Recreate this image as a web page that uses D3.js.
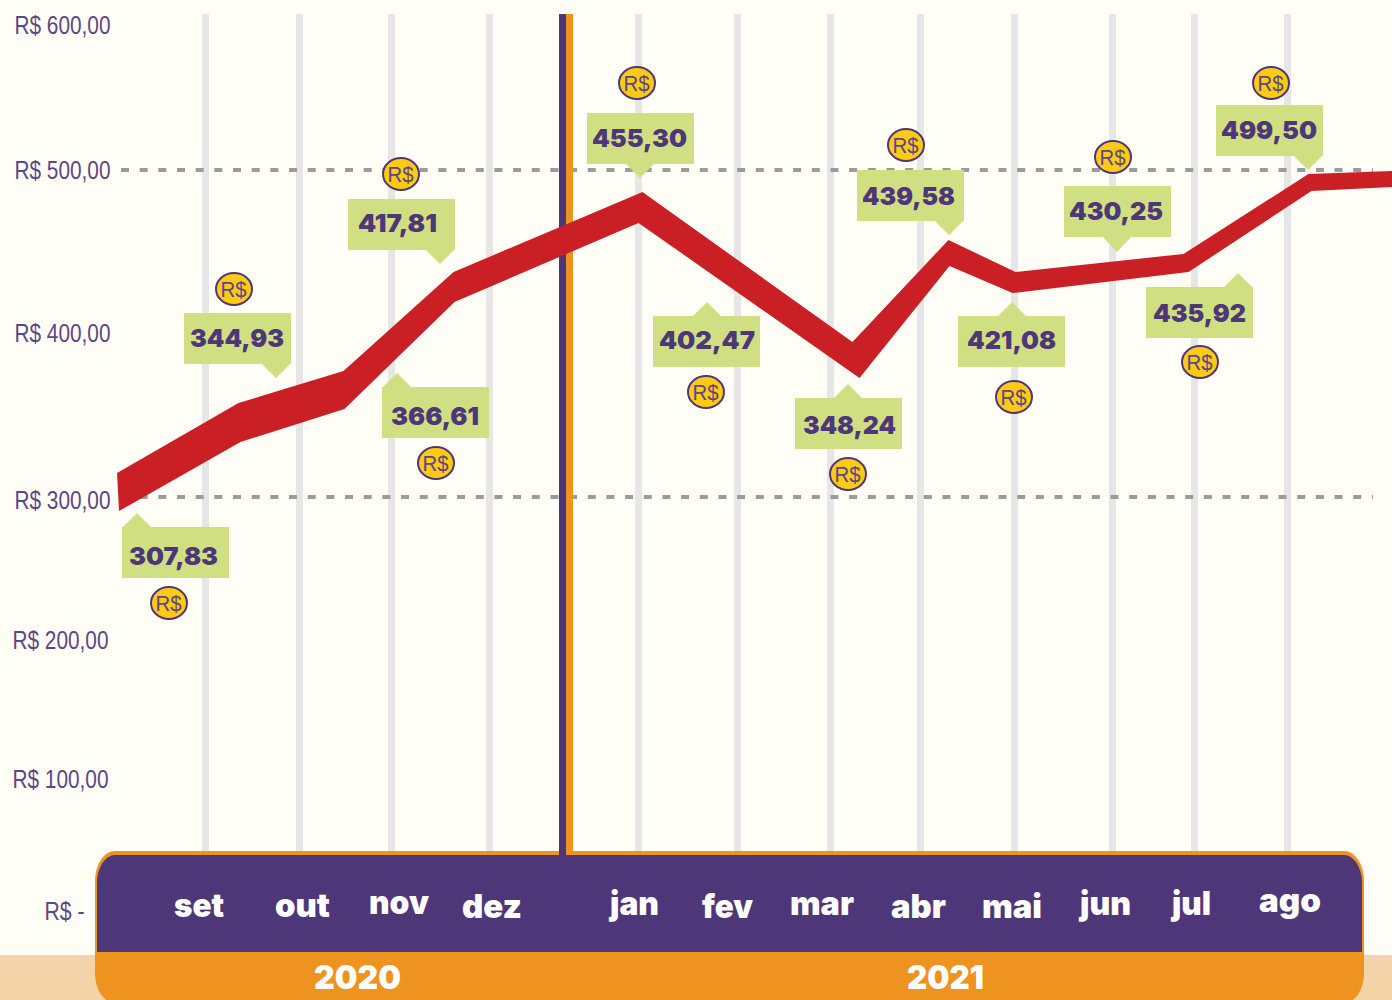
<!DOCTYPE html>
<html lang="pt-BR">
<head>
<meta charset="utf-8">
<title>Preço em R$</title>
<script src="https://cdn.jsdelivr.net/npm/d3@7/dist/d3.min.js"></script>
<style>
html,body{margin:0;padding:0;background:#fffef6;overflow:hidden}
svg{display:block}
</style>
</head>
<body>
<svg id="chart" width="1392" height="1000"></svg>
<script>
// ---------- data ----------
const months = ["set","out","nov","dez","jan","fev","mar","abr","mai","jun","jul","ago"];
const years = ["2020","2021"];
const yTicks = [0,100,200,300,400,500,600];
const valueLabels = ["307,83","344,93","417,81","366,61","455,30","402,47","348,24","439,58","421,08","430,25","435,92","499,50"];
const guideValues = [301.8,500];
// upper and lower edge of the red ribbon: position in month units, value in R$
const ribbonTopMonth = [-0.936,0.351,1.478,2.633,4.04,6.244,7.298,8.01,9.866,11.2,12];
const ribbonTopValue = [316.2,358.1,377.2,437.4,486.5,394.6,457.1,437.4,448.5,497.5,499.4];
const ribbonBottomMonth = [-0.915,0.372,1.489,2.643,4.0,6.322,7.309,7.979,9.927,11.229,12];
const ribbonBottomValue = [292.1,334.7,354.5,419.0,467.5,373.1,441.1,424.5,437.4,487.1,489.6];

// ---------- layout ----------
const W = 1392, H = 1000;
const C = {bg:"#fffef6",band:"#f5d3a9",grid:"#e6e6e6",dash:"#9b9b9b",purple:"#4e3778",orange:"#ee9220",
  red:"#cb1f26",box:"#cfdf82",coin:"#ffca14",axis:"#5c4785"};
const labelFont = "Inter, 'Open Sans', sans-serif";
const narrowFont = "'Liberation Sans', Arial, sans-serif";

const boxLeft = [122,184,348,382,587,653,795,857,958,1064,1146,1216];
const boxTop  = [527,313,199,387,113,316,398,170,316,186,287,105];
const tipX    = [137,276,440,397,640,707,848,949,1012,1117,1238,1308];
const tipY    = [513,378,264,373,178,302,384,235,302,252,273,170];
const textLeft = [129,190,358,391,592,659,803,862,967,1069,1153,1221];
const textW    = [89,94,79,88,95,96,93,93,89,94,93,96];
const textBase = [38,34,33,38,34,33,36,35,33,34,35,34];
const coinX = [169,234,401,436,637,706,848,906,1014,1113,1200,1271];
const coinY = [603,289,174,463,83,392,474,145,397,157,362,83];
const monthLeft = [174,275,369,462,610,702,790,891,982,1080,1172,1259];
const monthW    = [50,55,60,60,49,51,64,55,60,51,39,62];
const monthBase = [917,917,914,918,915,918,915,918,918,915,915,912];
const yearLeft = [314,907], yearW = [87,77];
const boxW = 107, boxH = 51, tipHalf = 14;

// ---------- scales ----------
const x = d3.scaleLinear()
  .domain([-1,0,1,2,3,4,5,6,7,8,9,10,11,12])
  .range([111,205.5,299.5,391.5,489.5,638.5,737.5,830.5,920.5,1014.5,1112.5,1194.5,1287.5,1392]);
const y = d3.scaleLinear()
  .domain(yTicks)
  .range([911,779,640,500,333,170,25]);

const svg = d3.select("#chart");
svg.append("rect").attr("width",W).attr("height",H).attr("fill",C.bg);
svg.append("rect").attr("x",0).attr("y",955).attr("width",W).attr("height",45).attr("fill",C.band);

// vertical month guides
svg.append("g").selectAll("line").data(months).join("line")
  .attr("x1",(d,i)=>x(i)).attr("x2",(d,i)=>x(i))
  .attr("y1",14).attr("y2",860)
  .attr("stroke",C.grid).attr("stroke-width",7);

// dashed horizontal guides
svg.append("g").selectAll("line").data(guideValues).join("line")
  .attr("x1",121).attr("x2",1373)
  .attr("y1",d=>y(d)).attr("y2",d=>y(d))
  .attr("stroke",C.dash).attr("stroke-width",4)
  .attr("stroke-dasharray","8 10.67");

// y axis labels
const yAxis = d3.axisLeft(y).tickValues(yTicks).tickSize(0)
  .tickFormat(d => d===0 ? "R$ -" : "R$ " + d + ",00");
const gy = svg.append("g").attr("transform","translate(110,0)").call(yAxis);
gy.select(".domain").remove();
gy.selectAll("text")
  .attr("font-family",narrowFont).attr("font-size",25).attr("fill",C.axis)
  .attr("text-anchor","start")
  .attr("dy",null)
  .attr("y",8.5)
  .attr("x",d => d===0 ? -65.5 : (d===100||d===200) ? -97.5 : -95.5)
  .attr("textLength",d => d===0 ? 40 : 96)
  .attr("lengthAdjust","spacingAndGlyphs");

// divider between the years (upper part)
svg.append("rect").attr("x",559).attr("y",14).attr("width",7).attr("height",845).attr("fill",C.purple);
svg.append("rect").attr("x",566).attr("y",14).attr("width",7).attr("height",845).attr("fill",C.orange);

// red ribbon
const edge = d3.line().x(d=>x(d[0])).y(d=>y(d[1]));
const topEdge = ribbonTopMonth.map((m,i)=>[m,ribbonTopValue[i]]);
const bottomEdge = ribbonBottomMonth.map((m,i)=>[m,ribbonBottomValue[i]]).reverse();
svg.append("path").attr("d",edge(topEdge.concat(bottomEdge))+"Z").attr("fill",C.red);

// value callouts
const callouts = svg.append("g").selectAll("g").data(valueLabels).join("g");
callouts.append("path")
  .attr("fill",C.box)
  .attr("d",(d,i)=>{
    const L=boxLeft[i],T=boxTop[i],R=L+boxW,B=T+boxH,tx=tipX[i],ty=tipY[i];
    const a=Math.max(L,tx-tipHalf), b=Math.min(R,tx+tipHalf);
    const p=d3.path();
    p.moveTo(L,T);
    if(ty<T){p.lineTo(a,T);p.lineTo(tx,ty);p.lineTo(b,T);}
    p.lineTo(R,T);p.lineTo(R,B);
    if(ty>B){p.lineTo(b,B);p.lineTo(tx,ty);p.lineTo(a,B);}
    p.lineTo(L,B);p.closePath();
    return p.toString();
  });
callouts.append("text")
  .text(d=>d)
  .attr("x",(d,i)=>textLeft[i]).attr("y",(d,i)=>boxTop[i]+textBase[i])
  .attr("font-family",labelFont).attr("font-weight",900).attr("font-size",25)
  .attr("fill",C.purple)
  .attr("textLength",(d,i)=>textW[i]).attr("lengthAdjust","spacingAndGlyphs");

// coins
const coins = svg.append("g").selectAll("g").data(valueLabels).join("g")
  .attr("transform",(d,i)=>`translate(${coinX[i]},${coinY[i]})`);
coins.append("ellipse").attr("rx",18).attr("ry",16).attr("fill",C.coin)
  .attr("stroke",C.purple).attr("stroke-width",2);
coins.append("text").text("R$").attr("x",-13.5).attr("y",7.5)
  .attr("font-family",narrowFont).attr("font-size",22).attr("fill",C.axis)
  .attr("textLength",26).attr("lengthAdjust","spacingAndGlyphs");

// month / year panel
svg.append("rect").attr("x",95).attr("y",851).attr("width",1269).attr("height",152)
  .attr("rx",20).attr("ry",30).attr("fill",C.orange);
const pL=97,pR=1362,pT=855,pB=952,rx=18,ry=28;
svg.append("path").attr("fill",C.purple)
  .attr("d",`M${pL},${pB}V${pT+ry}A${rx},${ry} 0 0 1 ${pL+rx},${pT}H${pR-rx}A${rx},${ry} 0 0 1 ${pR},${pT+ry}V${pB}Z`);

// divider over the panel
svg.append("rect").attr("x",559).attr("y",851).attr("width",7).attr("height",101).attr("fill",C.purple);
svg.append("rect").attr("x",566).attr("y",851).attr("width",7).attr("height",4).attr("fill",C.orange);

svg.append("g").selectAll("text").data(months).join("text")
  .text(d=>d)
  .attr("x",(d,i)=>monthLeft[i]).attr("y",(d,i)=>monthBase[i])
  .attr("font-family",labelFont).attr("font-weight",900).attr("font-size",33)
  .attr("fill","#ffffff")
  .attr("textLength",(d,i)=>monthW[i]).attr("lengthAdjust","spacingAndGlyphs");

svg.append("g").selectAll("text").data(years).join("text")
  .text(d=>d)
  .attr("x",(d,i)=>yearLeft[i]).attr("y",989)
  .attr("font-family",labelFont).attr("font-weight",900).attr("font-size",33)
  .attr("fill","#ffffff")
  .attr("textLength",(d,i)=>yearW[i]).attr("lengthAdjust","spacingAndGlyphs");
</script>
</body>
</html>
